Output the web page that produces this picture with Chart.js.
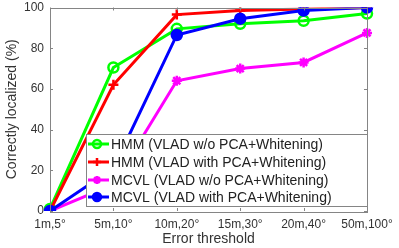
<!DOCTYPE html>
<html>
<head>
<meta charset="utf-8">
<script src="https://cdn.jsdelivr.net/npm/chart.js@4.4.1/dist/chart.umd.min.js"></script>
<style>
  html, body { margin: 0; padding: 0; background: #fff; }
  #wrap { width: 399px; height: 248px; }
</style>
</head>
<body>
<div id="wrap"><canvas id="chart"></canvas></div>
<script>
const thresholds = ['1m,5°', '5m,10°', '10m,20°', '15m,30°', '20m,40°', '50m,100°'];
const yTicks = [0, 20, 40, 60, 80, 100];

const hmmNoPca = [1, 70.5, 89.5, 92, 93.5, 97];
const hmmPca = [0, 62, 96.5, 98.5, 99.3, 100];
const mcvlNoPca = [0, 13, 64, 70, 73, 87.5];
const mcvlPca = [0, 21, 86.5, 94.5, 98.5, 100];

const seriesNames = [
    'HMM (VLAD w/o PCA+Whitening)',
    'HMM (VLAD with PCA+Whitening)',
    'MCVL (VLAD w/o PCA+Whitening)',
    'MCVL (VLAD with PCA+Whitening)'
];

const font = 'Liberation Sans, Arial, Helvetica, sans-serif';
const gray = '#858585';

// box + inward ticks, matlab style
const frame = {
    id: 'frame',
    afterDraw(chart) {
        const {ctx, chartArea: a, scales: {x, y}} = chart;
        ctx.save();
        ctx.strokeStyle = gray;
        ctx.lineWidth = 1;
        ctx.strokeRect(Math.round(a.left) + 0.5, Math.round(a.top) + 0.5,
            Math.round(a.right - a.left), Math.round(a.bottom - a.top));
        ctx.beginPath();
        thresholds.forEach((t, i) => {
            const px = Math.round(x.getPixelForValue(i)) + 0.5;
            ctx.moveTo(px, a.bottom); ctx.lineTo(px, a.bottom - 3);
            ctx.moveTo(px, a.top); ctx.lineTo(px, a.top + 3);
        });
        yTicks.forEach(v => {
            const py = Math.round(y.getPixelForValue(v)) + 0.5;
            ctx.moveTo(a.left, py); ctx.lineTo(a.left + 3, py);
            ctx.moveTo(a.right, py); ctx.lineTo(a.right - 3, py);
        });
        ctx.stroke();
        ctx.restore();
    }
};

// legend drawn inside the plot, bottom right
const boxLegend = {
    id: 'boxLegend',
    afterDraw(chart) {
        const {ctx, chartArea: a} = chart;
        const w = 281, h = 72;
        const bx = Math.round(a.right) - w, by = Math.round(a.bottom) - 5 - h;
        ctx.save();
        ctx.fillStyle = '#fff';
        ctx.fillRect(bx, by, w, h);
        ctx.strokeStyle = gray;
        ctx.lineWidth = 1;
        ctx.strokeRect(bx + 0.5, by + 0.5, w, h);
        ctx.font = '14px ' + font;
        ctx.textBaseline = 'middle';
        chart.data.datasets.forEach((ds, i) => {
            const cy = Math.round(by + 10 + i * 17.8);
            ctx.strokeStyle = ds.borderColor;
            ctx.lineWidth = 3;
            ctx.beginPath();
            ctx.moveTo(bx + 2, cy); ctx.lineTo(bx + 23, cy);
            ctx.stroke();
            ctx.fillStyle = ds.pointBackgroundColor;
            ctx.lineWidth = 2.5;
            Chart.helpers.drawPoint(ctx, {
                pointStyle: ds.pointStyle, radius: 4, borderWidth: 2.5
            }, bx + 11, cy);
            ctx.fillStyle = '#222';
            ctx.fillText(ds.label, bx + 25, cy + 1);
        });
        ctx.restore();
    }
};

function series(label, data, color, style, fill, order) {
    return {
        label, data, order,
        borderColor: color,
        borderWidth: 3,
        pointStyle: style,
        pointRadius: 5,
        pointBorderWidth: 2.5,
        pointBorderColor: color,
        pointBackgroundColor: fill,
        tension: 0
    };
}

new Chart(document.getElementById('chart'), {
    type: 'line',
    data: {
        labels: thresholds,
        datasets: [
            series(seriesNames[0], hmmNoPca, '#00ff00', 'circle', 'rgba(0,0,0,0)', 4),
            series(seriesNames[1], hmmPca, '#ff0000', 'cross', '#ff0000', 3),
            series(seriesNames[2], mcvlNoPca, '#ff00ff', 'star', '#ff00ff', 2),
            series(seriesNames[3], mcvlPca, '#0000ff', 'circle', '#0000ff', 1)
        ]
    },
    options: {
        responsive: true,
        maintainAspectRatio: false,
        animation: false,
        layout: { padding: { top: 6, right: 32, left: 4, bottom: 0 } },
        plugins: {
            legend: { display: false },
            tooltip: { enabled: false }
        },
        scales: {
            x: {
                type: 'category',
                offset: false,
                grid: { display: false, drawTicks: false, tickLength: 0 },
                border: { display: false },
                ticks: { color: '#333', font: { family: font, size: 12 }, padding: 6, maxRotation: 0, autoSkip: false },
                title: { display: true, text: 'Error threshold', color: '#333', font: { family: font, size: 14 }, padding: { top: 0, bottom: 0 } },
                afterFit(s) { s.height = 37; s.paddingLeft = 0; s.paddingRight = 0; }
            },
            y: {
                min: 0, max: 100,
                afterBuildTicks(s) { s.ticks = yTicks.map(v => ({ value: v })); },
                grid: { display: false, drawTicks: false, tickLength: 0 },
                border: { display: false },
                ticks: { color: '#333', font: { family: font, size: 12 }, padding: 6 },
                title: { display: true, text: 'Correctly localized (%)', color: '#333', font: { family: font, size: 14 }, padding: { top: 0, bottom: 4 } },
                afterFit(s) { s.width = 46; s.paddingTop = 0; s.paddingBottom = 0; }
            }
        }
    },
    plugins: [frame, boxLegend]
});
</script>
</body>
</html>
